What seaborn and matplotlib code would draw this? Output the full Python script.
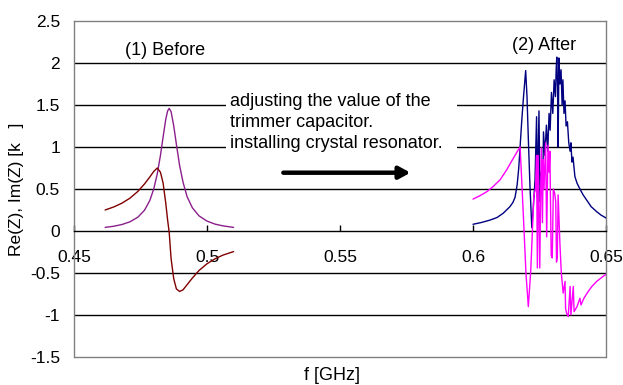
import matplotlib
matplotlib.use("Agg")
import matplotlib.pyplot as plt
import seaborn as sns
import pandas as pd
from matplotlib.patches import Rectangle

# ---------------- data ----------------
before_f = [0.4617, 0.4650, 0.4680, 0.4710, 0.4740, 0.4765, 0.4785, 0.4800, 0.4813,
            0.4825, 0.4835, 0.4845, 0.4852, 0.4858, 0.4865, 0.4875, 0.4885, 0.4897,
            0.4910, 0.4925, 0.4945, 0.4970, 0.5000, 0.5030, 0.5060, 0.5100]
before_re = [0.043, 0.057, 0.077, 0.109, 0.164, 0.247, 0.363, 0.503, 0.68,
             0.90, 1.12, 1.33, 1.43, 1.46, 1.42, 1.25, 1.03, 0.78,
             0.58, 0.41, 0.276, 0.18, 0.118, 0.082, 0.061, 0.043]
before_im = [0.25, 0.287, 0.331, 0.39, 0.471, 0.56, 0.643, 0.71, 0.75,
             0.70, 0.57, 0.33, 0.13, -0.02, -0.33, -0.57, -0.69, -0.72,
             -0.70, -0.64, -0.56, -0.47, -0.39, -0.331, -0.287, -0.245]

after_re_f = [0.6000, 0.6030, 0.6064, 0.6090, 0.6113, 0.6139, 0.6150, 0.6158, 0.6166,
              0.6172, 0.6177, 0.6183, 0.6190, 0.6198, 0.6203, 0.6208, 0.6214, 0.6221,
              0.6226, 0.6233, 0.6239, 0.6242, 0.6248, 0.6252, 0.6256, 0.6259, 0.6262,
              0.6265, 0.6270, 0.6276, 0.6281, 0.6286, 0.6290, 0.6295, 0.6300, 0.6305,
              0.6310, 0.6313, 0.6315, 0.6318, 0.6320, 0.6323, 0.6327, 0.6331, 0.6335,
              0.6338, 0.6342, 0.6346, 0.6350, 0.6355, 0.6360, 0.6365, 0.6368, 0.6372,
              0.6376, 0.6383, 0.6391, 0.6402, 0.6414, 0.6427, 0.6444, 0.6465, 0.6481,
              0.6500]
after_re = [0.08, 0.10, 0.13, 0.16, 0.21, 0.29, 0.34, 0.40, 0.55,
            0.75, 1.00, 1.30, 1.60, 1.91, 1.60, 1.10, 0.55, 0.04,
            0.25, 0.60, 1.36, 0.40, 1.43, 0.35, 0.70, 0.55, 0.51,
            1.18, 0.90, 1.26, 0.95, 1.40, 1.20, 1.65, 1.40, 1.80,
            1.60, 1.95, 2.07, 1.70, 1.00, 2.06, 1.75, 1.92, 1.50,
            1.80, 1.40, 1.55, 1.25, 1.30, 1.05, 0.95, 1.05, 0.82,
            0.88, 0.65, 0.57, 0.50, 0.43, 0.37, 0.29, 0.23, 0.19,
            0.155]

after_im_f = [0.6000, 0.6026, 0.6053, 0.6076, 0.6102, 0.6127, 0.6143, 0.6158, 0.6169,
              0.6177, 0.6184, 0.6192, 0.6199, 0.6208, 0.6217, 0.6229, 0.6235, 0.6239,
              0.6242, 0.6245, 0.6251, 0.6254, 0.6257, 0.6261, 0.6264, 0.6267, 0.6273,
              0.6277, 0.6280, 0.6282, 0.6286, 0.6289, 0.6294, 0.6298, 0.6302, 0.6307,
              0.6311, 0.6314, 0.6317, 0.6320, 0.6327, 0.6332, 0.6339, 0.6346, 0.6348,
              0.6352, 0.6358, 0.6365, 0.6368, 0.6377, 0.6380, 0.6391, 0.6402, 0.6406,
              0.6417, 0.6433, 0.6447, 0.6465, 0.6481, 0.6502]
after_im = [0.38, 0.42, 0.47, 0.53, 0.61, 0.73, 0.82, 0.90, 0.96,
            1.00, 0.55, 0.00, -0.50, -0.90, -0.48, 0.43, 0.50, 0.90,
            -0.44, 0.90, -0.44, 0.40, 0.99, 0.10, 0.85, 0.50, 1.05,
            -0.07, 0.60, 1.02, 0.70, 0.95, -0.29, -0.32, 0.50, 0.45,
            0.35, -0.37, -0.30, 0.43, -0.17, -0.50, -0.74, -0.60, -0.92,
            -0.98, -1.02, -0.66, -1.00, -0.66, -0.96, -0.90, -0.80, -0.88,
            -0.80, -0.72, -0.66, -0.60, -0.56, -0.51]

x_ticks = [0.45, 0.5, 0.55, 0.6, 0.65]
x_tick_labels = ["0.45", "0.5", "0.55", "0.6", "0.65"]
y_ticks = [-1.5, -1, -0.5, 0, 0.5, 1, 1.5, 2, 2.5]
y_tick_labels = ["-1.5", "-1", "-0.5", "0", "0.5", "1", "1.5", "2", "2.5"]
grid_values = [-1, -0.5, 0.5, 1, 1.5, 2]

before_df = pd.DataFrame({"f": before_f, "re": before_re, "im": before_im})
after_re_df = pd.DataFrame({"f": after_re_f, "re": after_re})
after_im_df = pd.DataFrame({"f": after_im_f, "im": after_im})

# ---------------- style ----------------
sns.set_theme(style="white")
plt.rcParams["font.family"] = ["Liberation Sans", "DejaVu Sans"]
plt.rcParams["text.color"] = "black"
plt.rcParams["axes.labelcolor"] = "black"
plt.rcParams["xtick.color"] = "black"
plt.rcParams["ytick.color"] = "black"

fig = plt.figure(figsize=(6.23, 3.85), dpi=100)
ax = fig.add_axes([74 / 623, 28 / 385, 532 / 623, 336 / 385])
ax.set_xlim(0.45, 0.65)
ax.set_ylim(-1.5, 2.5)

for g in grid_values:
    ax.axhline(g, color="black", lw=1.0, zorder=1)

# white box behind the note text (hides grid lines there)
ax.add_patch(Rectangle((0.5071, 0.75), 0.0869, 1.0, facecolor="white",
                       edgecolor="none", zorder=1.5))

sns.lineplot(data=before_df, x="f", y="re", color="#8B1F8B", lw=1.0,
             estimator=None, sort=False, ax=ax, zorder=3)
sns.lineplot(data=before_df, x="f", y="im", color="#800000", lw=1.0,
             estimator=None, sort=False, ax=ax, zorder=3)
sns.lineplot(data=after_re_df, x="f", y="re", color="#000080", lw=1.0,
             estimator=None, sort=False, ax=ax, zorder=3)
sns.lineplot(data=after_im_df, x="f", y="im", color="#FF00FF", lw=1.0,
             estimator=None, sort=False, ax=ax, zorder=3)

# spines / axes
for s in ["left", "right", "top"]:
    ax.spines[s].set_color("#808080")
    ax.spines[s].set_linewidth(1.0)
ax.spines["bottom"].set_position(("data", 0))
ax.spines["bottom"].set_color("black")
ax.spines["bottom"].set_linewidth(1.0)
ax.spines["bottom"].set_zorder(2.5)
ax.axhline(-1.5, color="#808080", lw=1.0, clip_on=False, zorder=2)

ax.set_xticks(x_ticks, x_tick_labels)
ax.set_yticks(y_ticks, y_tick_labels)
ax.tick_params(axis="x", direction="in", length=4.3, width=1.0, color="black",
               pad=14.0, labelsize=12.5, bottom=True)
ax.tick_params(axis="y", length=0, pad=10, labelsize=12.5, left=True)

ax.set_xlabel("f [GHz]", fontsize=13, va="center")
ax.xaxis.set_label_coords((332 - 74) / 532, -(375 - 357) / 336)
ax.set_ylabel("Re(Z), Im(Z) [k   ]", fontsize=12.5, va="center")
ax.yaxis.set_label_coords(-(74 - 17) / 532, 0.5)

ax.text(0.4692, 2.095, "(1) Before", fontsize=13, va="baseline", zorder=4)
ax.text(0.6148, 2.155, "(2) After", fontsize=13, va="baseline", zorder=4)
ax.text(0.5086, 1.643,
        "adjusting the value of the\ntrimmer capacitor.\ninstalling crystal resonator.",
        fontsize=13, va="top", ha="left", linespacing=1.32, zorder=4)

ax.annotate("", xy=(0.5765, 0.694), xytext=(0.5287, 0.694),
            arrowprops=dict(arrowstyle="-|>,head_length=0.55,head_width=0.3",
                            lw=3.2, color="black", shrinkA=0, shrinkB=0),
            zorder=4)

fig.savefig("out.png", dpi=100)
